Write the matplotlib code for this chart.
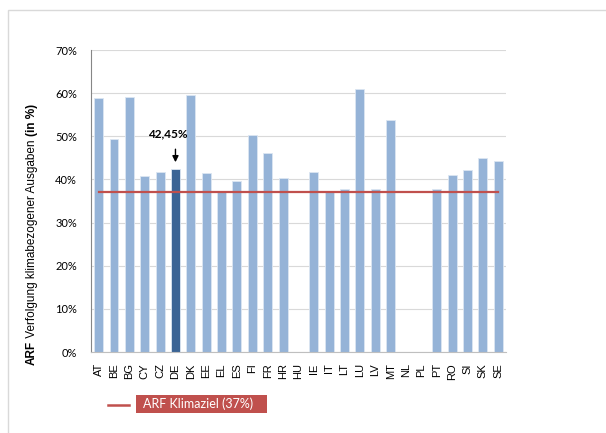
import numpy as np
import matplotlib
matplotlib.use("Agg")
import matplotlib.pyplot as plt
from matplotlib.lines import Line2D
from matplotlib.patches import Rectangle
from matplotlib.ticker import FuncFormatter

# Daten (Anteil klimabezogener Ausgaben in %)
laender = ["AT", "BE", "BG", "CY", "CZ", "DE", "DK", "EE", "EL", "ES", "FI", "FR",
           "HR", "HU", "IE", "IT", "LT", "LU", "LV", "MT", "NL", "PL", "PT", "RO",
           "SI", "SK", "SE"]
werte = [58.8, 49.4, 59.0, 40.8, 41.7, 42.45, 59.5, 41.5, 37.4, 39.6, 50.4, 46.1,
         40.3, np.nan, 41.8, 37.4, 37.9, 61.0, 37.7, 53.7, np.nan, np.nan, 37.8, 41.0,
         42.3, 44.9, 44.3]
klimaziel = 37.0
hervorgehoben = "DE"
label_de = "42,45%"

plt.rcParams['font.family'] = ['Liberation Sans', 'DejaVu Sans']

fig = plt.figure(figsize=(6.06, 4.33), dpi=100)
ax = fig.add_axes([0.150, 0.187, 0.685, 0.6975])

x = np.arange(len(laender))
farben = ["#3B6495" if l == hervorgehoben else "#95B3D7" for l in laender]
ax.bar(x, np.nan_to_num(werte), width=0.58, color=farben, edgecolor="#DCE6F2",
       linewidth=0.6, zorder=2)

# Ziel-Linie von erster bis letzter Kategorie
ax.plot([x[0], x[-1]], [klimaziel, klimaziel], color="#C0504D", linewidth=1.6, zorder=3)

# Pfeil + Beschriftung DE
i_de = laender.index(hervorgehoben)
ax.annotate("", xy=(x[i_de], werte[i_de] + 0.9), xytext=(x[i_de], werte[i_de] + 5.2),
            arrowprops=dict(arrowstyle="-|>", color="black", lw=1.0,
                            mutation_scale=9), zorder=4)
ax.text(x[i_de] - 0.5, werte[i_de] + 6.9, label_de, ha="center", va="bottom",
        fontsize=8.5, fontweight="bold", family=["Lato", "DejaVu Sans"])

ax.set_xlim(-0.5, len(laender) - 0.5)
ax.set_ylim(0, 70)
ax.set_yticks(np.arange(0, 71, 10))
ax.yaxis.set_major_formatter(FuncFormatter(lambda v, p: f"{v:.0f}%"))
ax.set_xticks(x)
ax.set_xticklabels(laender, rotation=90, fontsize=8)
ax.tick_params(axis="y", labelsize=8, length=0, pad=10)
ax.tick_params(axis="x", length=0, pad=8)
for t in ax.get_yticklabels():
    t.set_family(["Lato", "DejaVu Sans"])

ax.grid(axis="y", color="#D9D9D9", linewidth=0.8, zorder=0)
ax.set_axisbelow(True)
for s in ["top", "right"]:
    ax.spines[s].set_visible(False)
ax.spines["left"].set_color("#868686")
ax.spines["bottom"].set_color("#BFBFBF")

# Y-Achsenbeschriftung mit fett gesetzten Teilen
t1 = fig.text(0.052, 0.157, "ARF", rotation=90, ha="center", va="bottom",
              fontsize=8.5, fontweight="bold")
t2 = ax.annotate(" Verfolgung klimabezogener Ausgaben ", xy=(0.5, 1), xycoords=t1,
                 rotation=90, ha="center", va="bottom", fontsize=8.5,
                 annotation_clip=False)
t3 = ax.annotate("(in %)", xy=(0.5, 1), xycoords=t2, rotation=90, ha="center",
                 va="bottom", fontsize=8.5, fontweight="bold", annotation_clip=False)

# Rahmen
fig.add_artist(Rectangle((8 / 606, -0.1), 1.1, 1 - 10 / 433 + 0.1,
                         transform=fig.transFigure, fill=False,
                         edgecolor="#D9D9D9", linewidth=1.0))

# Legende
fig.add_artist(Line2D([108 / 606, 129 / 606], [1 - 405 / 433, 1 - 405 / 433],
                      transform=fig.transFigure, color="#C0504D", linewidth=1.8))
fig.add_artist(Rectangle((136 / 606, 1 - 413 / 433), 131 / 606, 18 / 433,
                         transform=fig.transFigure, facecolor="#C0504D",
                         edgecolor="none"))
fig.text(143 / 606, 1 - 404 / 433, "ARF Klimaziel (37%)", color="white",
         ha="left", va="center", fontsize=9, family=["Lato", "DejaVu Sans"])

fig.savefig("out.png", dpi=100)
